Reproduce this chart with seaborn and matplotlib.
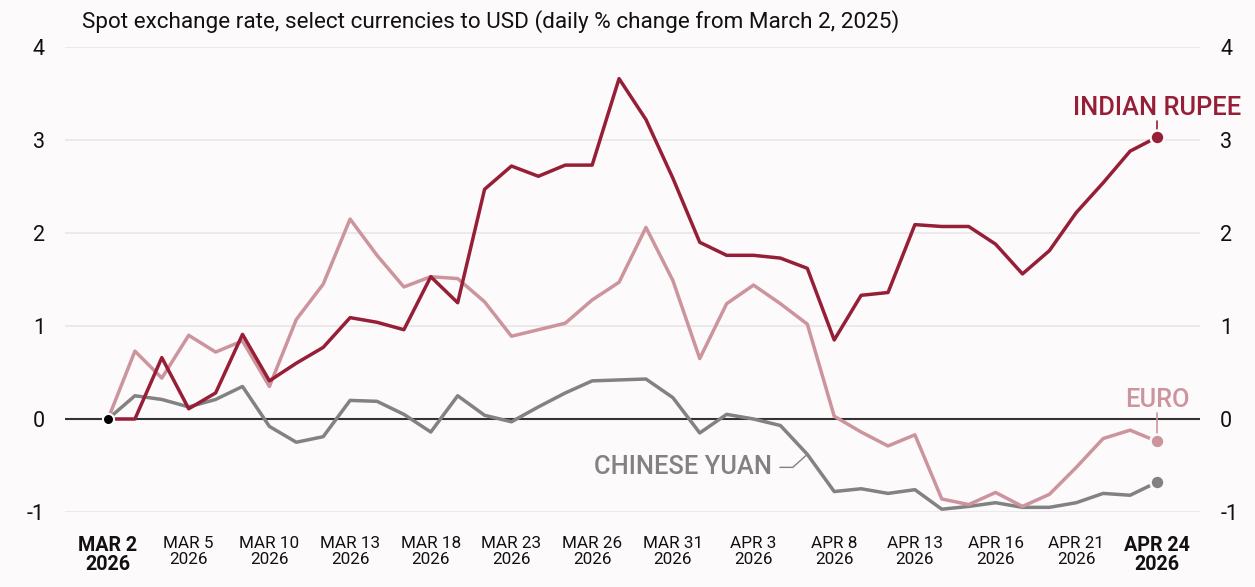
import matplotlib
matplotlib.use("Agg")
import matplotlib.pyplot as plt
import numpy as np
import pandas as pd
import seaborn as sns

# business days Mar 2 - Apr 24, 2026
dates = pd.bdate_range("2026-03-02", "2026-04-24")

rupee = [0.00, 0.00, 0.66, 0.11, 0.28, 0.91, 0.41, 0.60, 0.77, 1.09,
         1.04, 0.96, 1.53, 1.25, 2.47, 2.72, 2.61, 2.73, 2.73, 3.66,
         3.22, 2.59, 1.90, 1.76, 1.76, 1.73, 1.62, 0.85, 1.33, 1.36,
         2.09, 2.07, 2.07, 1.88, 1.56, 1.81, 2.22, 2.54, 2.88, 3.03]
euro = [0.00, 0.73, 0.44, 0.90, 0.72, 0.84, 0.35, 1.07, 1.45, 2.15,
        1.76, 1.42, 1.53, 1.51, 1.26, 0.89, 0.96, 1.03, 1.28, 1.47,
        2.06, 1.49, 0.65, 1.24, 1.44, 1.24, 1.02, 0.03, -0.14, -0.29,
        -0.17, -0.86, -0.92, -0.79, -0.94, -0.81, -0.52, -0.21, -0.12, -0.24]
yuan = [0.00, 0.25, 0.21, 0.13, 0.21, 0.35, -0.08, -0.25, -0.19, 0.20,
        0.19, 0.05, -0.14, 0.25, 0.04, -0.03, 0.13, 0.28, 0.41, 0.42,
        0.43, 0.23, -0.15, 0.05, 0.00, -0.07, -0.38, -0.78, -0.75, -0.80,
        -0.76, -0.97, -0.94, -0.90, -0.95, -0.95, -0.90, -0.80, -0.82, -0.68]

series_names = ["INDIAN RUPEE", "EURO", "CHINESE YUAN"]
colors = {"INDIAN RUPEE": "#961f37", "EURO": "#cc949d", "CHINESE YUAN": "#828282"}
y_ticks = [-1, 0, 1, 2, 3, 4]
tick_idx = list(range(0, len(dates), 3))

idx = np.arange(len(dates))
df = pd.concat([
    pd.DataFrame({"i": idx, "value": vals, "currency": name})
    for name, vals in zip(series_names, [rupee, euro, yuan])
])

sns.set_style("white")
plt.rcParams["font.family"] = ["Roboto", "DejaVu Sans"]
bg = "#fcfafb"

fig = plt.figure(figsize=(12.55, 5.87), dpi=100, facecolor=bg)
ax = fig.add_axes([65 / 1255, 75 / 587, 1135 / 1255, 465 / 587])
ax.set_facecolor(bg)

for y in y_ticks:
    if y == 0:
        continue
    ax.axhline(y, color="#e6e4e5", lw=1.1, zorder=0)
ax.axhline(0, color="#333333", lw=1.5, zorder=1)

sns.lineplot(data=df, x="i", y="value", hue="currency", hue_order=series_names[::-1],
             palette=colors, lw=2.5, legend=False, ax=ax, zorder=3)

# end markers
last = len(dates) - 1
for name, vals in zip(series_names, [rupee, euro, yuan]):
    ax.plot(last, vals[-1], "o", ms=10, color=colors[name], mec=bg, mew=1.8, zorder=5)
ax.plot(0, 0, "o", ms=8, color="black", mec="white", mew=1.5, zorder=6)

# labels and leader lines
ax.plot([last, last], [rupee[-1], rupee[-1] + 0.17], color=colors["INDIAN RUPEE"], lw=1.2, zorder=4)
ax.text(last, rupee[-1] + 0.24, "INDIAN RUPEE", color=colors["INDIAN RUPEE"],
        ha="center", va="baseline", fontsize=18.4, fontweight="medium")
ax.plot([last, last], [euro[-1], euro[-1] + 0.3], color=colors["EURO"], lw=1.2, zorder=4)
ax.text(last, euro[-1] + 0.37, "EURO", color=colors["EURO"],
        ha="center", va="baseline", fontsize=18.4, fontweight="medium")
ax.plot([24.98, 25.46, 26], [-0.52, -0.52, yuan[26]], color=colors["CHINESE YUAN"], lw=1.0, zorder=4)
ax.text(24.7, -0.52, "CHINESE YUAN", color=colors["CHINESE YUAN"],
        ha="right", va="center", fontsize=18.4, fontweight="medium")

ax.set_xlim(-1.6, last + 1.6)
ax.set_ylim(-1, 4)
ax.set_yticks(y_ticks)
ax.set_yticklabels([str(v) for v in y_ticks])
ax.tick_params(axis="y", left=False, right=False, labelleft=True, labelright=True,
               labelsize=15.5, pad=11, labelcolor="#111111")

ax.set_xticks(tick_idx)
ax.set_xticks(idx, minor=True)
ax.set_xticklabels([d.strftime("%b %-d\n%Y").upper() for d in dates[tick_idx]])
ax.tick_params(axis="x", which="major", length=10, width=1, color="#dddddd",
               labelsize=12.3, pad=7, labelcolor="#111111")
ax.tick_params(axis="x", which="minor", length=5.5, width=1, color="#dddddd")
labels = ax.get_xticklabels()
for lab in labels:
    lab.set_linespacing(1.15)
for lab in (labels[0], labels[-1]):
    lab.set_fontweight("bold")
    lab.set_fontsize(14.2)
    lab.set_linespacing(1.0)

for s in ax.spines.values():
    s.set_visible(False)
ax.set_xlabel("")
ax.set_ylabel("")

fig.text(82 / 1255, 1 - 22 / 587,
         "Spot exchange rate, select currencies to USD (daily % change from March 2, 2025)",
         ha="left", va="center", fontsize=16.2, color="#111111")

fig.savefig("out.png", dpi=100, facecolor=bg)
